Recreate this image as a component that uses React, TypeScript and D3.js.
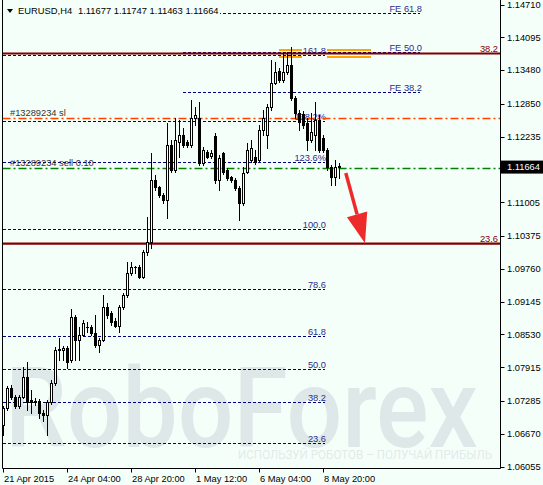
import React from 'react';
import * as d3 from 'd3';

const W = 543;
const H = 485;

const symbol = 'EURUSD,H4';
const lastQuote = [1.11677, 1.11747, 1.11463, 1.11664];

// H4 bars, [open, high, low, close]
const candles: [number, number, number, number][] = [
  [1.06832, 1.07188, 1.06645, 1.07151],
  [1.07151, 1.07563, 1.07113, 1.07525],
  [1.07525, 1.07581, 1.07319, 1.07357],
  [1.07357, 1.07394, 1.07151, 1.07188],
  [1.07188, 1.07394, 1.07151, 1.07357],
  [1.07357, 1.07919, 1.07338, 1.07731],
  [1.07731, 1.08012, 1.07113, 1.07263],
  [1.073, 1.07488, 1.07057, 1.07263],
  [1.07263, 1.07338, 1.07207, 1.07282],
  [1.07282, 1.07319, 1.06963, 1.07057],
  [1.07057, 1.07113, 1.06907, 1.07019],
  [1.07019, 1.073, 1.06645, 1.07263],
  [1.07263, 1.07675, 1.07225, 1.07619],
  [1.07619, 1.08293, 1.07581, 1.08237],
  [1.08237, 1.08462, 1.0805, 1.08256],
  [1.08237, 1.08312, 1.0805, 1.08275],
  [1.08275, 1.08312, 1.079, 1.08012],
  [1.0805, 1.09005, 1.08012, 1.08855],
  [1.08855, 1.08893, 1.0805, 1.08424],
  [1.08424, 1.08668, 1.0805, 1.08518],
  [1.08518, 1.08799, 1.08499, 1.08743],
  [1.08668, 1.08762, 1.08574, 1.0867],
  [1.08668, 1.08705, 1.08518, 1.08556],
  [1.08556, 1.08893, 1.08293, 1.08331],
  [1.08331, 1.08462, 1.082, 1.08424],
  [1.08424, 1.09268, 1.08406, 1.09043],
  [1.09043, 1.09118, 1.08837, 1.08893],
  [1.0893, 1.08968, 1.08705, 1.08762],
  [1.0878, 1.08837, 1.08668, 1.08687],
  [1.08687, 1.0908, 1.08574, 1.09043],
  [1.09043, 1.09305, 1.09005, 1.09268],
  [1.09268, 1.09886, 1.0923, 1.0968],
  [1.0968, 1.09886, 1.09642, 1.09792],
  [1.09792, 1.09811, 1.0968, 1.0979],
  [1.09792, 1.0983, 1.09586, 1.09605],
  [1.09605, 1.10111, 1.09586, 1.10073],
  [1.10073, 1.10729, 1.10017, 1.1026],
  [1.1026, 1.11928, 1.10148, 1.11422],
  [1.11422, 1.11516, 1.11235, 1.11291],
  [1.11291, 1.1131, 1.11103, 1.11141],
  [1.11141, 1.11178, 1.10991, 1.11047],
  [1.11047, 1.1249, 1.1071, 1.12078],
  [1.12078, 1.12171, 1.11572, 1.11609],
  [1.11609, 1.12583, 1.11572, 1.12171],
  [1.12134, 1.12546, 1.11853, 1.12265],
  [1.12265, 1.12396, 1.1204, 1.12078],
  [1.12134, 1.12171, 1.1204, 1.12078],
  [1.12078, 1.12921, 1.1204, 1.12583],
  [1.12583, 1.1279, 1.12452, 1.1264],
  [1.12583, 1.12883, 1.11703, 1.1174],
  [1.1174, 1.1204, 1.11703, 1.11984],
  [1.11946, 1.11984, 1.11834, 1.11853],
  [1.11871, 1.11984, 1.11834, 1.11928],
  [1.12246, 1.12302, 1.11366, 1.11422],
  [1.11422, 1.1189, 1.11235, 1.11834],
  [1.11928, 1.11946, 1.11534, 1.11572],
  [1.11609, 1.11647, 1.11422, 1.11459],
  [1.11478, 1.11497, 1.11384, 1.11422],
  [1.11422, 1.11459, 1.11235, 1.11272],
  [1.11272, 1.1131, 1.10673, 1.10991],
  [1.10991, 1.11665, 1.10954, 1.11553],
  [1.11572, 1.12115, 1.11553, 1.11984],
  [1.11797, 1.12171, 1.11759, 1.12021],
  [1.11853, 1.11984, 1.11722, 1.11759],
  [1.11797, 1.12452, 1.11759, 1.12359],
  [1.12359, 1.12733, 1.12265, 1.12583],
  [1.12265, 1.12846, 1.12021, 1.1279],
  [1.1279, 1.1367, 1.12733, 1.13239],
  [1.13239, 1.13633, 1.1322, 1.13445],
  [1.13464, 1.1352, 1.13258, 1.13295],
  [1.13295, 1.1382, 1.13258, 1.13445],
  [1.13445, 1.1382, 1.13408, 1.13576],
  [1.13576, 1.13914, 1.12921, 1.12958],
  [1.12958, 1.12996, 1.12583, 1.12677],
  [1.12677, 1.12733, 1.12359, 1.12508],
  [1.12658, 1.12715, 1.12396, 1.12452],
  [1.1249, 1.12583, 1.11984, 1.12171],
  [1.12171, 1.12677, 1.12134, 1.12321],
  [1.12265, 1.12883, 1.11984, 1.12546],
  [1.12546, 1.1264, 1.11946, 1.11984],
  [1.12209, 1.12265, 1.11946, 1.11984],
  [1.11984, 1.12021, 1.11609, 1.11665],
  [1.11665, 1.11703, 1.11328, 1.11478],
  [1.11478, 1.11797, 1.11328, 1.11665],
  [1.11677, 1.11747, 1.11463, 1.11664],
];

const priceTicks = [
  1.1471, 1.14095, 1.1348, 1.1285, 1.12235, 1.11005, 1.10375,
  1.0976, 1.09145, 1.0853, 1.07915, 1.07285, 1.0667, 1.06055,
];
const timeTicks: [number, string][] = [
  [0, '21 Apr 2015'],
  [16, '24 Apr 04:00'],
  [32, '28 Apr 20:00'],
  [48, '1 May 12:00'],
  [64, '6 May 04:00'],
  [80, '8 May 20:00'],
];

// fibo retracement
const fibLow = 1.05253;
const fibHigh = 1.10513;
const fibLevels = [23.6, 38.2, 50, 61.8, 78.6, 100, 123.6, 138.2, 161.8];
const fibLabels = ['23.6', '38.2', '50.0', '61.8', '78.6', '100.0', '123.6%', '138.2%', '161.8'];
const fibBars = [0, 80.5];

// fibo expansion
const feLevels = [1.13065, 1.13815, 1.1456];
const feLabels = ['FE 38.2', 'FE 50.0', 'FE 61.8'];
const feBars = [45, 104.25];

const keyLevels = [1.13792, 1.10232];
const keyLabels = ['38.2', '23.6'];

const slPrice = 1.12578;
const slLabel = '#13289234 sl';
const sellPrice = 1.11641;
const sellLabel = '#13289234 sell 0.10';

const zoneTop = 1.13857;
const zoneBottom = 1.13726;
const zoneBars: [number, number][] = [[69, 74.75], [81, 92]];

const arrowFrom: [number, number] = [85.7, 1.11553];
const arrowTo: [number, number] = [90.5, 1.10236];

const font = '"Liberation Sans", Arial, sans-serif';
const navy = '#000080';
const plotLeft = 2.5;
const plotRight = 500.5;
const plotBottom = 468.5;

const App = () => {
  const x = d3.scaleLinear().domain([0, 84]).range([3, 339]);
  const y = d3.scaleLinear().domain([1.06055, 1.1471]).range([466.5, 4.5]);
  const py = (p: number) => Math.round(y(p)) + 0.5;

  // arrow geometry
  const ax1 = x(arrowFrom[0]), ay1 = y(arrowFrom[1]);
  const ax2 = x(arrowTo[0]), ay2 = y(arrowTo[1]);
  const len = Math.hypot(ax2 - ax1, ay2 - ay1);
  const ux = (ax2 - ax1) / len, uy = (ay2 - ay1) / len;
  const headLen = 30, headW = 10.5;
  const bx = ax2 - ux * headLen, by = ay2 - uy * headLen;
  const head = [
    [ax2, ay2],
    [bx - uy * headW, by + ux * headW],
    [bx + uy * headW, by - ux * headW],
  ].map(p => p.join(',')).join(' ');

  return (
    <svg width={W} height={H} style={{ position: 'absolute', left: 0, top: 0, display: 'block' }}>
      <rect width={W} height={H} fill="#f5fffa" />

      {/* watermark */}
      <text x={5} y={447} fontFamily="Roboto, sans-serif" fontWeight={500} fontSize={112} textLength={473}
        lengthAdjust="spacingAndGlyphs" fill="#dfe8e8">RoboForex</text>
      <text x={238} y={459} fontFamily="Roboto, sans-serif" fontSize={13} textLength={254}
        lengthAdjust="spacingAndGlyphs" fill="#e3eaea">ИСПОЛЬЗУЙ РОБОТОВ – ПОЛУЧАЙ ПРИБЫЛЬ</text>

      {/* retracement levels */}
      {fibLevels.map((lv, i) => {
        const yy = py(fibLow + (lv / 100) * (fibHigh - fibLow));
        return (
          <g key={'fib' + i}>
            <line x1={x(fibBars[0])} x2={x(fibBars[1])} y1={yy} y2={yy} stroke={navy} strokeDasharray="3,2" />
            <text x={x(fibBars[1]) + 1} y={yy - 2} textAnchor="end" fontFamily={font} fontSize={9.3} fill="#2c2c8c">
              {fibLabels[i]}
            </text>
          </g>
        );
      })}

      {/* expansion levels */}
      {feLevels.map((p, i) => {
        const yy = py(p);
        return (
          <g key={'fe' + i}>
            <line x1={x(feBars[0])} x2={x(feBars[1])} y1={yy} y2={yy} stroke={navy} strokeDasharray="3,2" />
            <text x={x(feBars[1]) + 2} y={yy - 2} textAnchor="end" fontFamily={font} fontSize={9.3} fill="#2c2c8c">
              {feLabels[i]}
            </text>
          </g>
        );
      })}

      {/* orange zone */}
      {zoneBars.map(([a, b], i) => (
        <g key={'z' + i}>
          <line x1={x(a)} x2={x(b)} y1={y(zoneTop)} y2={y(zoneTop)} stroke="#ffa500" strokeWidth={2} />
          <line x1={x(a)} x2={x(b)} y1={y(zoneBottom)} y2={y(zoneBottom)} stroke="#ffa500" strokeWidth={2} />
        </g>
      ))}

      {/* maroon levels */}
      {keyLevels.map((p, i) => (
        <g key={'k' + i}>
          <line x1={plotLeft} x2={plotRight} y1={y(p)} y2={y(p)} stroke="#800000" strokeWidth={2.2} />
          <text x={498} y={y(p) - 2} textAnchor="end" fontFamily={font} fontSize={9.3} fill="#800000">
            {keyLabels[i]}
          </text>
        </g>
      ))}

      {/* order lines */}
      <line x1={plotLeft} x2={plotRight} y1={py(slPrice)} y2={py(slPrice)} stroke="#ff4500"
        strokeWidth={1.6} strokeDasharray="8,3,2,3" />
      <text x={10} y={py(slPrice) - 3} fontFamily={font} fontSize={9.3} fill="#333">{slLabel}</text>
      <line x1={plotLeft} x2={plotRight} y1={py(sellPrice)} y2={py(sellPrice)} stroke="#008000"
        strokeWidth={1.6} strokeDasharray="8,3,2,3" />
      <text x={10} y={py(sellPrice) - 3} fontFamily={font} fontSize={9.3} fill="#333">{sellLabel}</text>

      {/* candles */}
      {candles.map(([o, h, l, c], i) => {
        const cx = Math.round(x(i));
        const yo = Math.round(y(o));
        const yc = Math.round(y(c));
        const top = Math.min(yo, yc);
        const bot = Math.max(yo, yc);
        return (
          <g key={'c' + i}>
            <line x1={cx + 0.5} x2={cx + 0.5} y1={Math.round(y(h))} y2={Math.round(y(l)) + 1} stroke="#000" />
            {bot - top < 1 ? (
              <line x1={cx - 1} x2={cx + 2} y1={top + 0.5} y2={top + 0.5} stroke="#000" />
            ) : (
              <rect x={cx - 0.5} y={top + 0.5} width={2} height={bot - top}
                fill={c >= o ? '#fff' : '#000'} stroke="#000" />
            )}
          </g>
        );
      })}

      {/* arrow */}
      <line x1={ax1} y1={ay1} x2={bx} y2={by} stroke="#ee2b2b" strokeWidth={3.5} />
      <polygon points={head} fill="#ee2b2b" />

      {/* header */}
      <rect x={3} y={3} width={217} height={14} fill="#f5fffa" />
      <polygon points="7,9 13,9 10,13" fill="#000" />
      <text x={18} y={14} fontFamily={font} fontSize={9.4} fill="#000">{symbol}</text>
      <text x={78} y={14} fontFamily={font} fontSize={9.4} fill="#000">{lastQuote.map(v => v.toFixed(5)).join(' ')}</text>

      {/* frame */}
      <line x1={plotLeft} x2={plotLeft} y1={0} y2={plotBottom} stroke="#000" />
      <line x1={plotRight} x2={plotRight} y1={0} y2={plotBottom} stroke="#000" />
      <line x1={plotLeft} x2={plotRight} y1={plotBottom} y2={plotBottom} stroke="#000" />

      {/* price axis */}
      {priceTicks.map(t => (
        <g key={'t' + t}>
          <line x1={plotRight} x2={plotRight + 4} y1={py(t)} y2={py(t)} stroke="#000" />
          <text x={507} y={y(t) + 3.3} fontFamily={font} fontSize={9.3} fill="#000">{t.toFixed(5)}</text>
        </g>
      ))}
      <rect x={501} y={y(lastQuote[3]) - 6.5} width={42} height={13} fill="#000" />
      <text x={507} y={y(lastQuote[3]) + 3.3} fontFamily={font} fontSize={9.3} fill="#fff">
        {lastQuote[3].toFixed(5)}
      </text>

      {/* time axis */}
      {timeTicks.map(([i, label]) => (
        <g key={'x' + i}>
          <line x1={Math.round(x(i)) + 0.5} x2={Math.round(x(i)) + 0.5} y1={plotBottom} y2={plotBottom + 4} stroke="#000" />
          <text x={x(i) + 1} y={482} fontFamily={font} fontSize={9.3} fill="#000">{label}</text>
        </g>
      ))}
    </svg>
  );
};

export default App;
